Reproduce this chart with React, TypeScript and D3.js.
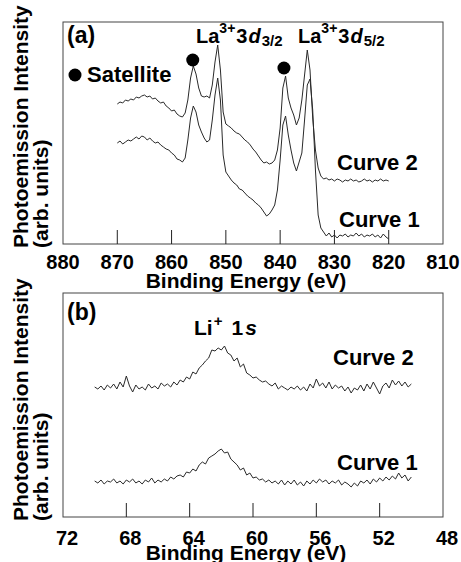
import React, { useEffect, useRef } from 'react';
import * as d3 from 'd3';

// ---- panel (a): La 3d region, 870 -> 820 eV in 0.5 eV steps
const laEnergy = d3.range(870, 819.9, -0.5);
const laCurve2 = [
  140, 142, 141, 144, 143, 145, 144, 147, 146, 148,
  149, 147, 148, 145, 146, 143, 141, 142, 138, 136,
  133, 134, 130, 128, 127, 131, 144, 166, 178, 170,
  156, 148, 147, 148, 146, 159, 182, 199, 174, 132,
  120, 118, 116, 113, 111, 110, 107, 104, 102, 99,
  95, 92, 88, 84, 81, 82, 80, 81, 84, 94,
  116, 156, 168, 146, 136, 129, 119, 126, 144, 169,
  194, 174, 126, 94, 76, 68, 65, 66, 64, 65,
  63, 65, 64, 62, 64, 63, 65, 63, 64, 62,
  63, 65, 63, 64, 62, 64, 63, 65, 63, 64,
  63,
];
const laCurve1 = [
  101, 103, 100, 102, 104, 103, 105, 107, 105, 108,
  107, 104, 106, 103, 101, 102, 99, 97, 95, 94,
  91, 89, 85, 84, 82, 86, 104, 126, 138, 132,
  119, 112, 106, 102, 104, 124, 149, 166, 144, 89,
  72, 68, 64, 61, 59, 55, 54, 51, 48, 46,
  44, 41, 39, 36, 32, 28, 30, 34, 39, 54,
  84, 119, 128, 109, 94, 81, 73, 82, 91, 124,
  159, 165, 134, 74, 29, 16, 12, 8, 11, 7,
  9, 6, 9, 8, 10, 7, 9, 8, 11, 8,
  10, 7, 9, 8, 10, 7, 9, 6, 10, 7,
  5,
];
const laTicks = [870, 860, 850, 840, 830, 820];
const laTickLabels = [880, 870, 860, 850, 840, 830, 820, 810];
const satellites = [
  { e: 856.1, v: 184 },
  { e: 839.3, v: 176 },
];

// ---- panel (b): Li 1s region, 70 -> 50 eV in 0.2 eV steps
const liEnergy = d3.range(70, 49.99, -0.2);
const liCurve2 = [
  130, 128, 131, 127, 132, 129, 133, 128, 135, 130,
  141, 131, 125, 132, 128, 130, 127, 133, 129, 131,
  128, 134, 131, 133, 130, 135, 132, 137, 135, 140,
  138, 145, 143, 149, 152, 156, 159, 167, 166, 169,
  167, 171, 164, 162, 156, 159, 150, 153, 144, 142,
  139, 140, 137, 135, 136, 133, 131, 134, 128, 131,
  129, 127, 130, 128, 131, 127, 130, 126, 133, 129,
  138, 131, 134, 129, 135, 128, 132, 129, 131, 126,
  130, 124, 129, 127, 132, 126, 133, 128, 135, 129,
  123, 131, 134, 129, 137, 132, 136, 131, 135, 130,
  133,
];
const liCurve1 = [
  36, 34, 37, 33, 36, 35, 38, 34, 36, 33,
  37, 35, 38, 34, 36, 33, 37, 35, 39, 34,
  37, 35, 38, 36, 40, 38, 41, 42, 40, 45,
  44, 48, 46, 52, 55, 53, 59, 61, 63, 66,
  68, 64, 65, 58, 55, 52, 47, 49, 42, 44,
  39, 40, 37, 38, 35, 37, 34, 36, 33, 37,
  32, 36, 33, 37, 32, 35, 31, 36, 33, 37,
  34, 38, 35, 37, 33, 36, 34, 37, 32, 35,
  33, 30, 34, 31, 36, 34, 37, 33, 38, 35,
  39, 36, 40, 37, 41, 38, 44, 39, 42, 36,
  40,
];
const liTicks = [68, 64, 60, 56, 52];
const liTickLabels = [72, 68, 64, 60, 56, 52, 48];

const FONT = "'Liberation Sans', Arial, Helvetica, sans-serif";
const LEFT = 63;
const RIGHT = 443;

const drawPanel = (svg: any, p: any) => {
  const x = d3.scaleLinear().domain(p.xDomain).range([LEFT, RIGHT]);
  const y = d3.scaleLinear().domain([0, p.yMax]).range([p.bottom, p.top]);
  const g = svg.append('g');

  g.append('rect')
    .attr('x', LEFT)
    .attr('y', p.top)
    .attr('width', RIGHT - LEFT)
    .attr('height', p.bottom - p.top)
    .attr('fill', 'none')
    .attr('stroke', '#444')
    .attr('stroke-width', 1);

  // inward ticks, no ticks at the frame edges
  g.selectAll('.tick')
    .data(p.ticks)
    .join('line')
    .attr('class', 'tick')
    .attr('x1', (d: number) => x(d))
    .attr('x2', (d: number) => x(d))
    .attr('y1', p.bottom)
    .attr('y2', p.bottom - 14)
    .attr('stroke', '#222');

  g.selectAll('.tl')
    .data(p.tickLabels)
    .join('text')
    .attr('class', 'tl')
    .attr('x', (d: number) => x(d) + p.labelDx)
    .attr('y', p.labelY)
    .attr('text-anchor', 'middle')
    .attr('font-size', 20)
    .attr('font-weight', 'bold')
    .text((d: number) => d);

  g.append('text')
    .attr('x', 246)
    .attr('y', p.titleY)
    .attr('text-anchor', 'middle')
    .attr('font-size', 21)
    .attr('font-weight', 'bold')
    .text('Binding Energy (eV)');

  // y title, two lines, both starting just below the frame
  g.append('text')
    .attr('transform', `translate(28,${p.bottom + 4}) rotate(-90)`)
    .attr('font-size', 21)
    .attr('font-weight', 'bold')
    .text('Photoemission Intensity');
  g.append('text')
    .attr('transform', `translate(48,${p.bottom + 4}) rotate(-90)`)
    .attr('font-size', 21)
    .attr('font-weight', 'bold')
    .text('(arb. units)');

  const line = d3
    .line<number>()
    .x((d, i) => x(p.energy[i]))
    .y((d) => y(d));

  p.curves.forEach((c: number[]) => {
    g.append('path')
      .datum(c)
      .attr('fill', 'none')
      .attr('stroke', '#2a2a2a')
      .attr('stroke-width', 1)
      .attr('d', line);
  });

  g.append('text')
    .attr('x', 67)
    .attr('y', p.tagY)
    .attr('font-size', 23)
    .attr('font-weight', 'bold')
    .text(p.tag);

  p.curveLabels.forEach((l: any) => {
    g.append('text')
      .attr('x', l.x)
      .attr('y', l.y)
      .attr('font-size', 22)
      .attr('font-weight', 'bold')
      .text(l.text);
  });

  return { x, y, g };
};

const laLabel = (g: any, x0: number, sub: string) => {
  const t = g.append('text')
    .attr('x', x0)
    .attr('y', 43)
    .attr('font-size', 20)
    .attr('font-weight', 'bold');
  t.append('tspan').text('La');
  t.append('tspan').attr('font-size', 14).attr('dy', -10).text('3+');
  t.append('tspan').attr('dy', 10).attr('dx', 1).text('3');
  t.append('tspan').attr('font-style', 'italic').attr('dx', 1).text('d');
  t.append('tspan').attr('font-size', 15).attr('dy', 3).attr('dx', 1).text(sub);
};

const App = () => {
  const svgRef = useRef<SVGSVGElement>(null);

  useEffect(() => {
    const svg = d3.select(svgRef.current);
    svg.selectAll('*').remove();
    svg.attr('font-family', FONT);

    const a = drawPanel(svg, {
      xDomain: [880, 810],
      top: 22,
      bottom: 244,
      yMax: 222,
      ticks: laTicks,
      tickLabels: laTickLabels,
      labelDx: 0,
      labelY: 269,
      titleY: 288,
      energy: laEnergy,
      curves: [laCurve1, laCurve2],
      tag: '(a)',
      tagY: 43,
      curveLabels: [
        { x: 337, y: 170, text: 'Curve 2' },
        { x: 339, y: 227, text: 'Curve 1' },
      ],
    });

    a.g.selectAll('.sat')
      .data(satellites)
      .join('circle')
      .attr('class', 'sat')
      .attr('cx', (d: any) => a.x(d.e))
      .attr('cy', (d: any) => a.y(d.v))
      .attr('r', 6.5)
      .attr('fill', '#000');

    a.g.append('circle').attr('cx', 75).attr('cy', 75).attr('r', 6.5).attr('fill', '#000');
    a.g.append('text')
      .attr('x', 87)
      .attr('y', 82)
      .attr('font-size', 22)
      .attr('font-weight', 'bold')
      .text('Satellite');

    laLabel(a.g, 196, '3/2');
    laLabel(a.g, 298, '5/2');

    const b = drawPanel(svg, {
      xDomain: [72, 48],
      top: 293,
      bottom: 517,
      yMax: 224,
      ticks: liTicks,
      tickLabels: liTickLabels,
      labelDx: 4,
      labelY: 545,
      titleY: 560,
      energy: liEnergy,
      curves: [liCurve1, liCurve2],
      tag: '(b)',
      tagY: 320,
      curveLabels: [
        { x: 333, y: 365, text: 'Curve 2' },
        { x: 337, y: 470, text: 'Curve 1' },
      ],
    });

    const li = b.g.append('text')
      .attr('x', 194)
      .attr('y', 335)
      .attr('font-size', 21)
      .attr('font-weight', 'bold');
    li.append('tspan').text('Li');
    li.append('tspan').attr('font-size', 15).attr('dy', -9).attr('dx', 1).text('+');
    li.append('tspan').attr('dy', 9).attr('dx', 9).text('1');
    li.append('tspan').attr('font-style', 'italic').attr('dx', 2).text('s');
  }, []);

  return (
    <svg
      ref={svgRef}
      width={461}
      height={562}
      style={{ position: 'absolute', left: 0, top: 0, background: '#fff' }}
    />
  );
};

export default App;
